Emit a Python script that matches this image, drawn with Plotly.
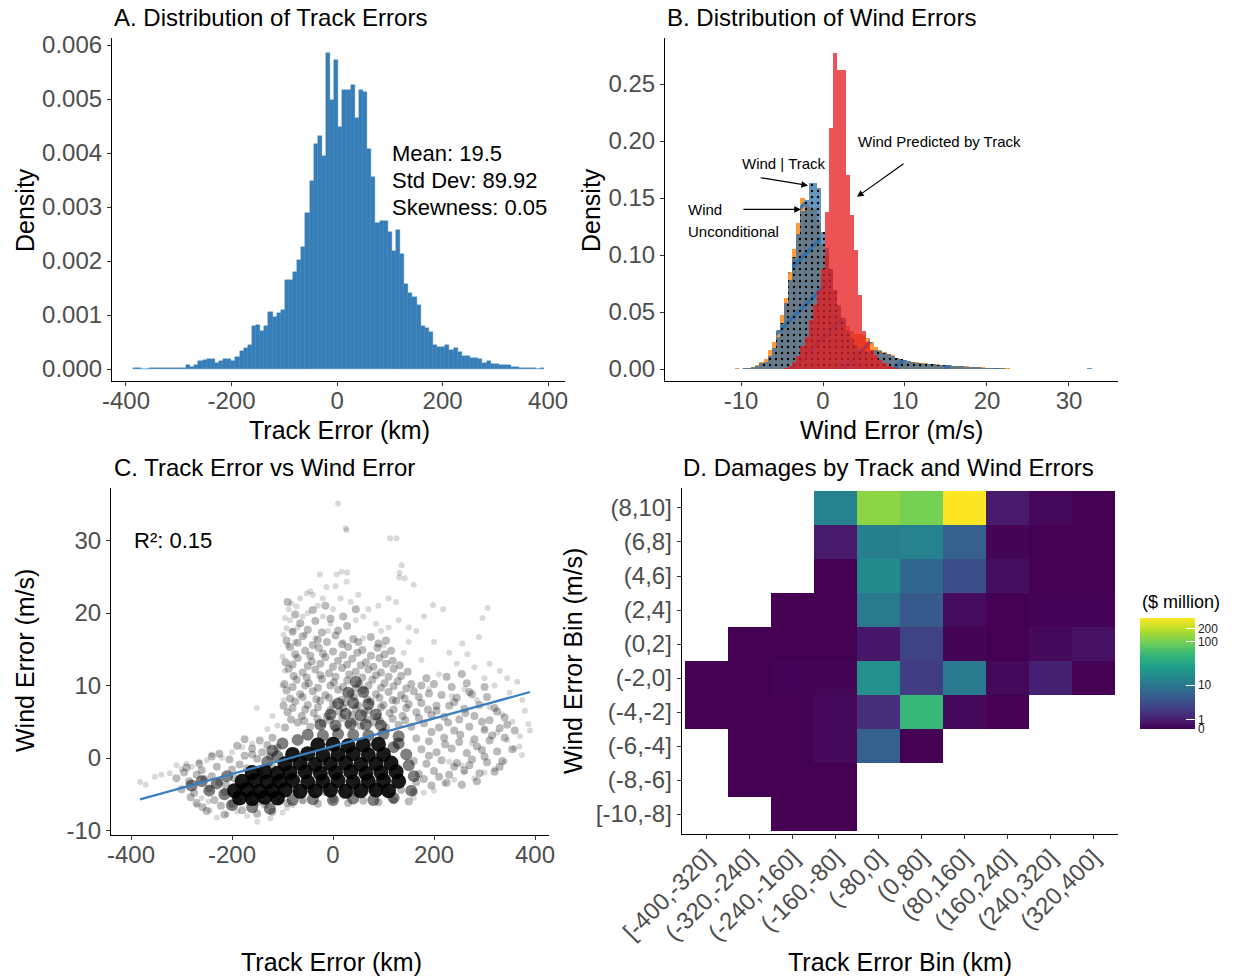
import numpy as np
import plotly.graph_objects as go

FONT = "Liberation Sans, Arial, Helvetica, sans-serif"

# ---------------- Panel A: track error histogram (density) ----------------
track_bin_start = -387.5
track_bin_width = 7.8
track_density = [
    0.00001, 0.00001, 0, 0, 0.00001, 0.00001, 0.00001, 0.00001, 0.00001, 0.00001,
    0.00001, 0.00002, 0.00002, 0.00008, 0.00003, 0.00008, 0.00014, 0.00016, 0.00019, 0.00019,
    0.00011, 0.00015, 0.00019, 0.00019, 0.00014, 0.00022, 0.00033, 0.00038, 0.00044, 0.00079,
    0.00081, 0.00071, 0.00079, 0.00106, 0.00096, 0.00104, 0.00110, 0.00164, 0.00164, 0.00180,
    0.00201, 0.00226, 0.00289, 0.00348, 0.00416, 0.00432, 0.00395, 0.00586, 0.00499, 0.00572,
    0.00449, 0.00516, 0.00516, 0.00526, 0.00465, 0.00516, 0.00513, 0.00407, 0.00356, 0.00271,
    0.00275, 0.00275, 0.00254, 0.00219, 0.00257, 0.00213, 0.00158, 0.00141, 0.00134, 0.00118,
    0.00079, 0.00076, 0.00068, 0.00045, 0.00040, 0.00040, 0.00044, 0.00036, 0.00039, 0.00031,
    0.00024, 0.00024, 0.00020, 0.00020, 0.00018, 0.00012, 0.00014, 0.00009, 0.00009, 0.00007,
    0.00007, 0.00008, 0.00003, 0.00003, 0.00001, 0.00001, 0.00002, 0.00001, 0, 0.00001,
]
track_stats = ["Mean: 19.5", "Std Dev: 89.92", "Skewness: 0.05"]

# ---------------- Panel B: wind error histograms (density) ----------------
wind_first_center = -10.5
wind_bin_width = 0.5
wind_uncond = [
    0.0005, 0.0003, 0.0008, 0.0012, 0.002, 0.0035, 0.0064, 0.009, 0.017, 0.024,
    0.034, 0.047, 0.062, 0.085, 0.105, 0.128, 0.150, 0.144, 0.142, 0.140,
    0.128, 0.110, 0.100, 0.086, 0.069, 0.056, 0.045, 0.038, 0.033, 0.031,
    0.031, 0.030, 0.027, 0.024, 0.019, 0.017, 0.015, 0.013, 0.012, 0.010,
    0.009, 0.008, 0.007, 0.0065, 0.006,
    0.0055, 0.005, 0.0048, 0.0045, 0.004, 0.0038, 0.0035, 0.0032, 0.003, 0.0028,
    0.0026, 0.0024, 0.002, 0.0018, 0.0016, 0.0014, 0.0012, 0.001, 0.0009, 0.0008,
    0.0006, 0.0005, 0.0004, 0.0004, 0.0003, 0.0002, 0.0002, 0, 0.0002, 0.0003,
    0.0002, 0, 0.0003, 0.0003, 0.0002, 0, 0, 0, 0, 0, 0, 0.0004, 0.0004,
]
wind_given_track = [
    0.0003, 0.0002, 0.0005, 0.001, 0.0018, 0.003, 0.005, 0.006, 0.011, 0.018,
    0.028, 0.040, 0.058, 0.078, 0.098, 0.118, 0.139, 0.148, 0.163, 0.163,
    0.159, 0.120, 0.106, 0.088, 0.069, 0.056, 0.043, 0.034, 0.027, 0.021,
    0.017, 0.016, 0.015, 0.016, 0.017, 0.016, 0.014, 0.013, 0.011, 0.010,
    0.0085, 0.0078, 0.0068, 0.0062, 0.0056,
    0.005, 0.0048, 0.0045, 0.004, 0.0038, 0.0035, 0.0032, 0.003, 0.0028, 0.0025,
    0.0022, 0.002, 0.0018, 0.0016, 0.0014, 0.0012, 0.001, 0.0009, 0.0008, 0.0007,
    0.0005, 0.0004, 0.0003, 0.0003, 0.0002, 0.0002, 0.0001, 0, 0.0002, 0.0003,
    0, 0, 0, 0, 0, 0, 0, 0, 0, 0, 0, 0.0005, 0.0004,
]
wind_pred_by_track = [
    0, 0, 0, 0, 0, 0, 0, 0, 0, 0,
    0, 0, 0.001, 0.003, 0.006, 0.011, 0.020, 0.028, 0.043, 0.056,
    0.069, 0.088, 0.138, 0.211, 0.277, 0.262, 0.262, 0.170, 0.135, 0.104,
    0.065, 0.033, 0.024, 0.017, 0.012, 0.008, 0.005, 0.003, 0.0015, 0.0008,
    0.0004, 0, 0, 0, 0,
    0, 0, 0, 0, 0, 0, 0, 0, 0, 0,
    0, 0, 0, 0, 0, 0, 0, 0, 0, 0,
    0, 0, 0, 0, 0, 0, 0, 0, 0, 0,
    0, 0, 0, 0, 0, 0, 0, 0, 0, 0, 0, 0, 0,
]

# ---------------- Panel C: track vs wind error scatter (km, m/s) ----------------
sparse_pts = [
    (10, 35.1), (25, 31.7), (27, 31.4), (113, 30.3), (126, 30.3), (136, 26.6), (132, 25.5), (131, 24.9), (142, 24.8), (160, 23.9),
    (-26, 25.3), (7, 25.3), (17, 25.7), (28, 25.6), (-13, 23.6), (5, 23.7), (27, 24.3), (-52, 22.7), (-65, 22.0), (-82, 21.3),
    (-72, 20.9), (-95, 19.3), (-98, 17.0), (-92, 17.9), (-40, 22.5), (-30, 21.0), (-60, 19.5), (-85, 19.0), (-45, 23.0), (15, 22.0),
    (35, 21.5), (50, 22.5), (70, 20.5), (90, 21.0), (110, 22.0), (125, 21.5), (-20, 19.5), (0, 20.5), (45, 19.0), (85, 18.5),
    (130, 19.0), (150, 18.0), (165, 17.5), (180, 19.5), (198, 21.1), (218, 20.5), (306, 20.7), (296, 19.3), (289, 16.7), (256, 15.8),
    (266, 14.3), (200, 16.0), (230, 14.5), (245, 13.0), (280, 12.5), (310, 13.0), (330, 12.0), (345, 11.0), (365, 10.5), (300, 11.0),
    (320, 10.0), (350, 9.0), (375, 8.0), (390, 3.8), (387, 4.7), (374, 0.4), (359, 1.3), (369, 1.6), (340, -0.5), (320, -1.5),
    (300, -2.0), (280, -2.8), (260, -2.0), (240, -3.0), (220, -3.5), (200, -4.5), (180, -4.8), (160, -5.5),
    (-382, -3.3), (-371, -3.7), (-353, -2.6), (-340, -2.3), (-323, -2.1), (-310, -1.0), (-300, -1.5), (-290, -0.8), (-280, -1.2), (-265, -0.5),
    (-250, -0.3), (-240, 0.5), (-220, 0.0), (-200, 0.8), (-180, 1.5), (-160, 2.0), (-151, 6.9), (-120, 5.8), (-130, 4.0), (-110, 4.5),
    (-230, -8.2), (-247, -6.0), (-244, -7.2), (-190, -7.4), (-124, -8.3), (-91, -6.9), (-170, -8.0), (-150, -8.8), (-210, -7.8), (-260, -5.5),
    (-270, -6.5), (-100, -7.5), (-80, -6.5), (-60, -6.0),
    (-100, 14.0), (-95, 12.0), (-100, 10.0), (-98, 8.0), (-90, 15.5), (-75, 16.0), (-55, 17.0), (-35, 16.5), (-10, 17.5), (20, 16.0),
    (60, 16.5), (100, 15.5), (140, 14.5), (175, 13.5), (210, 11.5), (190, 9.5), (235, 8.5), (260, 9.5), (285, 8.0), (310, 7.0),
    (335, 6.0), (355, 5.0), (370, 3.0), (380, 6.5), (345, 2.5), (325, 3.5), (300, 4.0), (275, 2.0), (255, -1.0), (230, -0.5),
    (-70, 18.0), (-50, 20.0), (-80, 17.5), (-20, 22.0), (60, 19.5), (-5, 18.5), (110, 18.0), (150, 16.0), (95, 17.5), (-88, 20.5),
]
mid_pts = [
    (-95, 4.2), (-70, 4.9), (-45, 4.3), (-20, 4.8), (5, 4.1), (30, 4.7), (55, 4.4), (80, 4.9), (105, 4.2), (130, 4.6), (155, 4.3), (180, 4.8),
    (-90, 6.3), (-62, 5.8), (-38, 6.2), (-12, 5.7), (12, 6.4), (38, 5.9), (62, 6.3), (88, 5.7), (112, 6.2), (138, 5.8), (165, 6.3), (195, 5.9),
    (-98, 7.2), (-75, 7.8), (-50, 7.3), (-25, 7.9), (0, 7.4), (25, 7.7), (50, 7.2), (75, 7.8), (100, 7.3), (125, 7.9), (150, 7.4), (175, 7.6), (205, 7.2),
    (-92, 9.3), (-65, 8.8), (-40, 9.2), (-15, 8.7), (10, 9.4), (35, 8.9), (60, 9.3), (85, 8.8), (110, 9.1), (135, 8.7), (160, 9.2), (190, 8.9),
    (-96, 10.2), (-72, 10.8), (-48, 10.3), (-22, 10.9), (2, 10.4), (28, 10.7), (52, 10.2), (78, 10.8), (102, 10.3), (128, 10.6), (155, 10.2),
    (-88, 12.3), (-60, 11.8), (-35, 12.2), (-8, 11.7), (18, 12.4), (45, 11.9), (70, 12.2), (95, 11.8), (120, 12.3), (148, 11.9),
    (-94, 13.2), (-70, 13.8), (-42, 13.3), (-15, 13.9), (10, 13.4), (38, 13.7), (65, 13.2), (92, 13.8), (118, 13.4),
    (-85, 15.3), (-55, 14.8), (-28, 15.2), (0, 14.7), (30, 15.3), (58, 14.9), (88, 15.2), (115, 14.8),
    (-92, 16.2), (-60, 16.8), (-30, 16.3), (5, 16.9), (40, 16.4), (75, 16.7), (105, 16.2),
    (165, -3.3), (195, -3.8), (225, -3.4), (255, -3.7), (285, -3.2),
    (170, -2.2), (200, -1.8), (230, -2.3), (260, -1.7), (290, -2.1), (320, -1.9),
    (160, -0.4), (185, -0.8), (215, -0.3), (245, -0.7), (275, -0.2), (305, -0.6), (335, -0.4),
    (175, 1.2), (205, 0.8), (235, 1.3), (265, 0.7), (295, 1.1), (325, 0.9), (355, 1.2),
    (165, 2.7), (190, 2.3), (220, 2.8), (250, 2.2), (280, 2.6), (310, 2.4), (340, 2.8),
    (210, 4.2), (240, 3.8), (270, 4.3), (300, 3.9), (330, 4.1), (360, 3.8),
    (220, 5.7), (250, 5.3), (280, 5.8), (310, 5.2), (340, 5.6),
    (230, 7.2), (260, 6.8), (290, 7.3), (320, 6.9),
    (215, 8.7), (245, 8.3), (275, 8.8), (305, 8.4),
    (200, 10.2), (235, 9.8), (265, 10.3),
    (-250, -7.3), (-215, -7.8), (-180, -7.2), (-150, -7.7), (-120, -7.4),
    (-270, -6.2), (-235, -5.8), (-200, -6.3), (-165, -5.7), (-135, -6.4), (-105, -5.9),
    (-300, -4.3), (-275, -4.8), (-245, -4.2), (-215, -4.7), (-185, -4.3), (-155, -4.8), (-125, -4.4),
    (-310, -2.8), (-285, -3.2), (-255, -2.9), (-225, -3.3), (-195, -2.8), (-165, -3.2), (-140, -2.7), (-115, -3.1),
    (-290, -1.3), (-260, -1.7), (-230, -1.2), (-200, -1.6), (-170, -1.4), (-145, -1.8), (-120, -1.3),
    (-240, 0.2), (-205, -0.2), (-175, 0.3), (-150, -0.1), (-125, 0.2),
    (-190, 1.7), (-160, 1.3), (-130, 1.8), (-110, 1.4),
    (-90, -6.2), (-60, -5.8), (-30, -6.3), (0, -5.7), (30, -6.2), (60, -5.9), (90, -6.1), (120, -5.8), (150, -6.0),
    (-75, -4.6), (-45, -4.3), (-15, -4.7), (15, -4.4), (45, -4.8), (75, -4.3), (105, -4.6), (135, -4.4), (160, -4.7),
    (-83, 5.3), (-57, 5.1), (-31, 5.4), (-6, 5.2), (18, 5.5), (43, 5.0), (68, 5.3), (93, 5.1), (118, 5.4), (143, 5.2), (170, 5.5),
    (-80, 6.9), (-55, 6.7), (-30, 7.0), (-5, 6.6), (20, 6.9), (45, 6.8), (70, 6.6), (95, 7.0), (120, 6.7), (145, 6.9), (188, 6.7),
    (-85, 8.2), (-60, 8.4), (-33, 8.1), (-8, 8.3), (17, 8.0), (42, 8.4), (68, 8.1), (92, 8.3), (118, 8.0), (142, 8.2), (170, 8.4),
    (-80, 9.8), (-55, 10.0), (-30, 9.7), (-5, 10.0), (20, 9.8), (45, 9.6), (70, 10.0), (95, 9.7), (120, 9.9), (145, 9.6), (175, 10.0),
    (-78, 11.3), (-52, 11.1), (-25, 11.4), (5, 11.2), (32, 11.5), (58, 11.1), (85, 11.4), (110, 11.2), (135, 11.3),
    (-80, 12.9), (-50, 12.7), (-25, 13.0), (0, 12.6), (28, 12.9), (55, 12.8), (80, 12.6), (105, 13.0), (132, 12.8),
    (-75, 14.3), (-45, 14.1), (-20, 14.4), (20, 14.2), (48, 14.5), (75, 14.1), (102, 14.3),
    (-70, 15.9), (-40, 15.6), (-12, 16.0), (18, 15.7), (50, 16.0), (90, 15.8),
    (-80, 17.4), (-50, 17.7), (-22, 17.3), (10, 17.6), (28, 18.2), (-65, 18.6), (-35, 18.9), (-5, 19.2), (20, 19.5), (45, 20.5),
    (-90, 21.5), (-15, 21.0), (-75, 19.8), (-40, 20.4),
    (180, -2.9), (210, -2.6), (240, -1.2), (270, -1.0), (300, 0.2), (330, -1.2), (190, 0.3), (222, 1.9), (252, 3.2), (285, 1.6),
    (315, 3.1), (345, 4.6), (195, 3.6), (228, 4.9), (262, 6.2), (295, 5.0), (325, 6.4), (205, 6.5), (240, 7.7), (270, 9.1),
    (300, 9.8), (185, 11.0), (225, 11.2), (255, 11.6),
    (-282, -5.4), (-258, -6.8), (-222, -6.6), (-188, -5.9), (-150, -6.1), (-295, -2.0), (-270, -2.3), (-240, -2.5), (-212, -3.7), (-180, -3.9),
    (-265, -0.8), (-225, 0.6), (-185, -0.9), (-160, 0.5), (-140, 0.8), (-175, 2.6), (-145, 2.4), (-120, 2.8),
]
dense_pts = [
    (-50, 3.2), (-20, 3.1), (10, 3.3), (40, 3.2), (70, 3.1), (100, 3.3), (130, 3.0),
    (-25, 4.6), (5, 4.5), (35, 4.7), (65, 4.6), (95, 4.5),
    (-5, 6.0), (25, 6.1), (55, 5.9), (85, 6.0),
    (10, 7.5), (40, 7.6), (70, 7.4),
    (30, 9.0), (60, 9.1), (45, 10.5),
    (-230, -3.5), (-215, -5.0), (-210, -2.5), (-200, -6.5), (-160, -6.8), (-125, -7.0), (-130, -0.5), (-120, 1.0),
    (-110, 0.2), (150, -1.0), (155, -4.5), (145, 0.5), (160, -2.5), (130, 2.0), (120, -5.5), (80, -5.8),
    (40, -5.6), (0, -5.8), (-40, -5.7), (-80, -5.8), (-100, 2.0), (-70, 2.5), (120, 1.5), (-260, -3.2),
    (-280, -3.8), (-245, -4.5),
]
core_pts = [
    (-185, -5.5), (-160, -5.6), (-135, -5.4), (-110, -5.5),
    (-195, -4.5), (-170, -4.4), (-145, -4.6), (-120, -4.5), (-95, -4.4), (-65, -4.6), (-35, -4.5), (-5, -4.4), (25, -4.6), (55, -4.5), (85, -4.4), (110, -4.5),
    (-180, -3.2), (-155, -3.1), (-130, -3.3), (-105, -3.2), (-80, -3.1), (-50, -3.3), (-20, -3.2), (10, -3.1), (40, -3.3), (70, -3.2), (100, -3.1), (130, -3.2),
    (-160, -2.0), (-135, -1.9), (-110, -2.1), (-85, -2.0), (-55, -1.9), (-25, -2.1), (5, -2.0), (35, -1.9), (65, -2.1), (95, -2.0), (125, -1.9),
    (-95, -0.8), (-65, -0.7), (-35, -0.9), (-5, -0.8), (25, -0.7), (55, -0.9), (85, -0.8), (115, -0.7),
    (-80, 0.5), (-50, 0.6), (-20, 0.4), (10, 0.5), (40, 0.6), (70, 0.4), (100, 0.5),
    (-30, 1.8), (0, 1.9), (30, 1.7), (60, 1.8), (90, 1.9),
]
fit_track = [-382, 390]
fit_wind = [-5.7, 9.1]
r2_label = "R²: 0.15"

# ---------------- Panel D: damages heatmap ($ million) ----------------
track_bins = ["[-400,-320]", "(-320,-240]", "(-240,-160]", "(-160,-80]", "(-80,0]",
              "(0,80]", "(80,160]", "(160,240]", "(240,320]", "(320,400]"]
wind_bins = ["[-10,-8]", "(-8,-6]", "(-6,-4]", "(-4,-2]", "(-2,0]",
             "(0,2]", "(2,4]", "(4,6]", "(6,8]", "(8,10]"]
damage = [
    [None, None, 0, 0, None, None, None, None, None, None],
    [None, 0, 0, 0, None, None, None, None, None, None],
    [None, 0, 0, 0.23, 5.6, 0, None, None, None, None],
    [0, 0, 0, 0.23, 1.67, 50.3, 0.23, 0, None, None],
    [0, 0, 0.06, 0.12, 18.5, 2.5, 10.9, 0.23, 1.1, 0],
    [None, 0, 0, 0, 0.72, 2.9, 0.12, 0, 0.29, 0.53],
    [None, None, 0, 0, 10.3, 4.95, 0.35, 0, 0.06, 0.06],
    [None, None, None, 0, 16.4, 6.75, 3.83, 0.47, 0, 0],
    [None, None, None, 0.84, 12.3, 13.5, 5.6, 0.12, 0, 0],
    [None, None, None, 13.8, 124.6, 101.6, 347, 0.84, 0.23, 0],
]
cbar_ticks = [0, 1, 10, 100, 200]


def pseudo_log(v):
    return float(np.arcsinh(v / 2.0) / np.log(10))


fig = go.Figure()

# A
track_centers = [track_bin_start + track_bin_width * (i + 0.5) for i in range(len(track_density))]
fig.add_trace(go.Bar(
    x=track_centers, y=track_density, width=track_bin_width,
    marker=dict(color="#377EB8", line=dict(color="#377EB8", width=0.4)),
    xaxis="x", yaxis="y", showlegend=False, hoverinfo="skip"))

# B
wind_centers = [wind_first_center + wind_bin_width * i for i in range(len(wind_uncond))]
fig.add_trace(go.Bar(
    x=wind_centers, y=wind_uncond, width=wind_bin_width,
    marker=dict(color="rgba(255,127,0,0.78)", line=dict(width=0),
                pattern=dict(shape="/", fgcolor="#3A78B0", fgopacity=1, size=36,
                             solidity=0.1, fillmode="overlay")),
    xaxis="x2", yaxis="y2", showlegend=False, hoverinfo="skip"))
fig.add_trace(go.Bar(
    x=wind_centers, y=wind_given_track, width=wind_bin_width,
    marker=dict(color="rgba(45,110,170,0.72)", line=dict(width=0),
                pattern=dict(shape=".", fgcolor="black", fgopacity=1, size=6,
                             solidity=0.12, fillmode="overlay")),
    xaxis="x2", yaxis="y2", showlegend=False, hoverinfo="skip"))
fig.add_trace(go.Bar(
    x=wind_centers, y=wind_pred_by_track, width=wind_bin_width,
    marker=dict(color="rgba(228,26,28,0.75)", line=dict(width=0)),
    xaxis="x2", yaxis="y2", showlegend=False, hoverinfo="skip"))

# C
for pts, op, sz in [(sparse_pts, 0.15, 6), (mid_pts, 0.27, 8), (dense_pts, 0.5, 12), (core_pts, 0.9, 15)]:
    fig.add_trace(go.Scatter(
        x=[p[0] for p in pts], y=[p[1] for p in pts], mode="markers",
        marker=dict(color="black", opacity=op, size=sz, line=dict(width=0)),
        xaxis="x3", yaxis="y3", showlegend=False, hoverinfo="skip"))
fig.add_trace(go.Scatter(
    x=fit_track, y=fit_wind, mode="lines", line=dict(color="#3A7DC0", width=2.2),
    xaxis="x3", yaxis="y3", showlegend=False, hoverinfo="skip"))

# D
z_t = [[None if v is None else pseudo_log(v) for v in row] for row in damage]
zmax = max(pseudo_log(v) for row in damage for v in row if v is not None)
fig.add_trace(go.Heatmap(
    x=list(range(len(track_bins))), y=list(range(len(wind_bins))), z=z_t,
    colorscale="Viridis", zmin=0, zmax=zmax, hoverongaps=False, hoverinfo="skip",
    xaxis="x4", yaxis="y4",
    colorbar=dict(x=1140 / 1235, xanchor="left", xpad=0, y=1 - 673.5 / 979, yanchor="middle", ypad=0,
                  len=111, lenmode="pixels", thickness=55, thicknessmode="pixels",
                  outlinewidth=0, ticks="inside", ticklen=9, tickcolor="white", tickwidth=1,
                  tickvals=[pseudo_log(v) for v in cbar_ticks], ticktext=[str(v) for v in cbar_ticks],
                  tickfont=dict(family=FONT, size=12, color="#1a1a1a"))))


def ax(**kw):
    d = dict(showgrid=False, zeroline=False, showline=True, linecolor="black", linewidth=1.1,
             ticks="outside", ticklen=4, tickwidth=1, tickcolor="#333333", automargin=False,
             tickfont=dict(family=FONT, size=24, color="#4D4D4D"), fixedrange=True)
    d.update(kw)
    return d


def px_x(p):
    return p / 1235.0


def px_y(p):
    return 1 - p / 979.0


ytop_dom = [px_y(381), px_y(38)]
ybot_dom = [px_y(835), px_y(488)]

a_yt = [0, 0.001, 0.002, 0.003, 0.004, 0.005, 0.006]
b_yt = [0, 0.05, 0.10, 0.15, 0.20, 0.25]
ct = [-400, -200, 0, 200, 400]

fig.update_layout(
    width=1235, height=979, margin=dict(l=0, r=0, t=0, b=0, pad=0, autoexpand=False),
    paper_bgcolor="white", plot_bgcolor="white",
    barmode="overlay", bargap=0, showlegend=False,
    font=dict(family=FONT),
    xaxis=ax(domain=[px_x(112), px_x(565)], range=[-426.5, 432], anchor="y",
             tickvals=ct, ticktext=[str(v) for v in ct], ticklabelstandoff=-6),
    yaxis=ax(domain=ytop_dom, range=[-0.000222, 0.00613], anchor="x",
             tickvals=a_yt, ticktext=["%.3f" % v for v in a_yt]),
    xaxis2=ax(domain=[px_x(665), px_x(1118)], range=[-19.27, 35.98], anchor="y2",
              tickvals=[-10, 0, 10, 20, 30], ticktext=["-10", "0", "10", "20", "30"], ticklabelstandoff=-6),
    yaxis2=ax(domain=ytop_dom, range=[-0.01053, 0.29035], anchor="x2",
              tickvals=b_yt, ticktext=["%.2f" % v for v in b_yt]),
    xaxis3=ax(domain=[px_x(111), px_x(549)], range=[-439.6, 427.7], anchor="y3",
              tickvals=ct, ticktext=[str(v) for v in ct], ticklabelstandoff=-6),
    yaxis3=ax(domain=ybot_dom, range=[-10.62, 37.24], anchor="x3",
              tickvals=[-10, 0, 10, 20, 30], ticktext=["-10", "0", "10", "20", "30"]),
    xaxis4=ax(domain=[px_x(681.7), px_x(1118)], range=[-0.577, 9.57], anchor="y4",
              tickvals=list(range(10)), ticktext=track_bins, tickangle=-45, ticklabelstandoff=-5),
    yaxis4=ax(domain=[px_y(834), px_y(488)], range=[-0.588, 9.588], anchor="x4",
              tickvals=list(range(10)), ticktext=wind_bins),
)

ann = []


def paper_text(text, x, y, size, xanchor="center", angle=0, color="black"):
    ann.append(dict(text=text, x=px_x(x), y=px_y(y), xref="paper", yref="paper",
                    xanchor=xanchor, yanchor="middle", showarrow=False, textangle=angle,
                    font=dict(family=FONT, size=size, color=color)))


paper_text("A. Distribution of Track Errors", 112, 17, 24, "left")
paper_text("B. Distribution of Wind Errors", 665, 17, 24, "left")
paper_text("C. Track Error vs Wind Error", 112, 467, 24, "left")
paper_text("D. Damages by Track and Wind Errors", 681, 467, 24, "left")
paper_text("Track Error (km)", 339, 430, 25)
paper_text("Density", 25, 210, 25, angle=-90)
paper_text("Wind Error (m/s)", 891, 430, 25)
paper_text("Density", 591, 210, 25, angle=-90)
paper_text("Track Error (km)", 331, 962, 25)
paper_text("Wind Error (m/s)", 25, 661, 25, angle=-90)
paper_text("Track Error Bin (km)", 900, 962, 25)
paper_text("Wind Error Bin (m/s)", 573, 661, 25, angle=-90)
paper_text("($ million)", 1140, 602, 18, "left")

for txt, yv in zip(track_stats, [0.0040, 0.0035, 0.0030]):
    ann.append(dict(text=txt, x=100, y=yv, xref="x", yref="y", xanchor="left", yanchor="middle",
                    showarrow=False, font=dict(family=FONT, size=22, color="black")))

ann.append(dict(text=r2_label, x=-398, y=30, xref="x3", yref="y3", xanchor="left", yanchor="middle",
                showarrow=False, font=dict(family=FONT, size=22, color="black")))

for txt, xv, yv, xa in [("Wind Predicted by Track", 4.0, 0.200, "left"),
                        ("Wind | Track", -4.75, 0.180, "center"),
                        ("Wind", -16.7, 0.1395, "left"),
                        ("Unconditional", -16.7, 0.121, "left")]:
    ann.append(dict(text=txt, x=xv, y=yv, xref="x2", yref="y2", xanchor=xa, yanchor="middle",
                    showarrow=False, font=dict(family=FONT, size=15, color="black")))

for (hx, hy), (tx, ty) in [((4.15, 0.151), (10.0, 0.181)),
                           ((-1.83, 0.161), (-7.8, 0.168)),
                           ((-2.7, 0.140), (-9.9, 0.140))]:
    ann.append(dict(text="", x=hx, y=hy, ax=tx, ay=ty, xref="x2", yref="y2", axref="x2", ayref="y2",
                    showarrow=True, arrowhead=2, arrowsize=1.1, arrowwidth=1.2, arrowcolor="black",
                    standoff=0, startstandoff=0))

fig.update_layout(annotations=ann)
fig.write_html("out.html")
